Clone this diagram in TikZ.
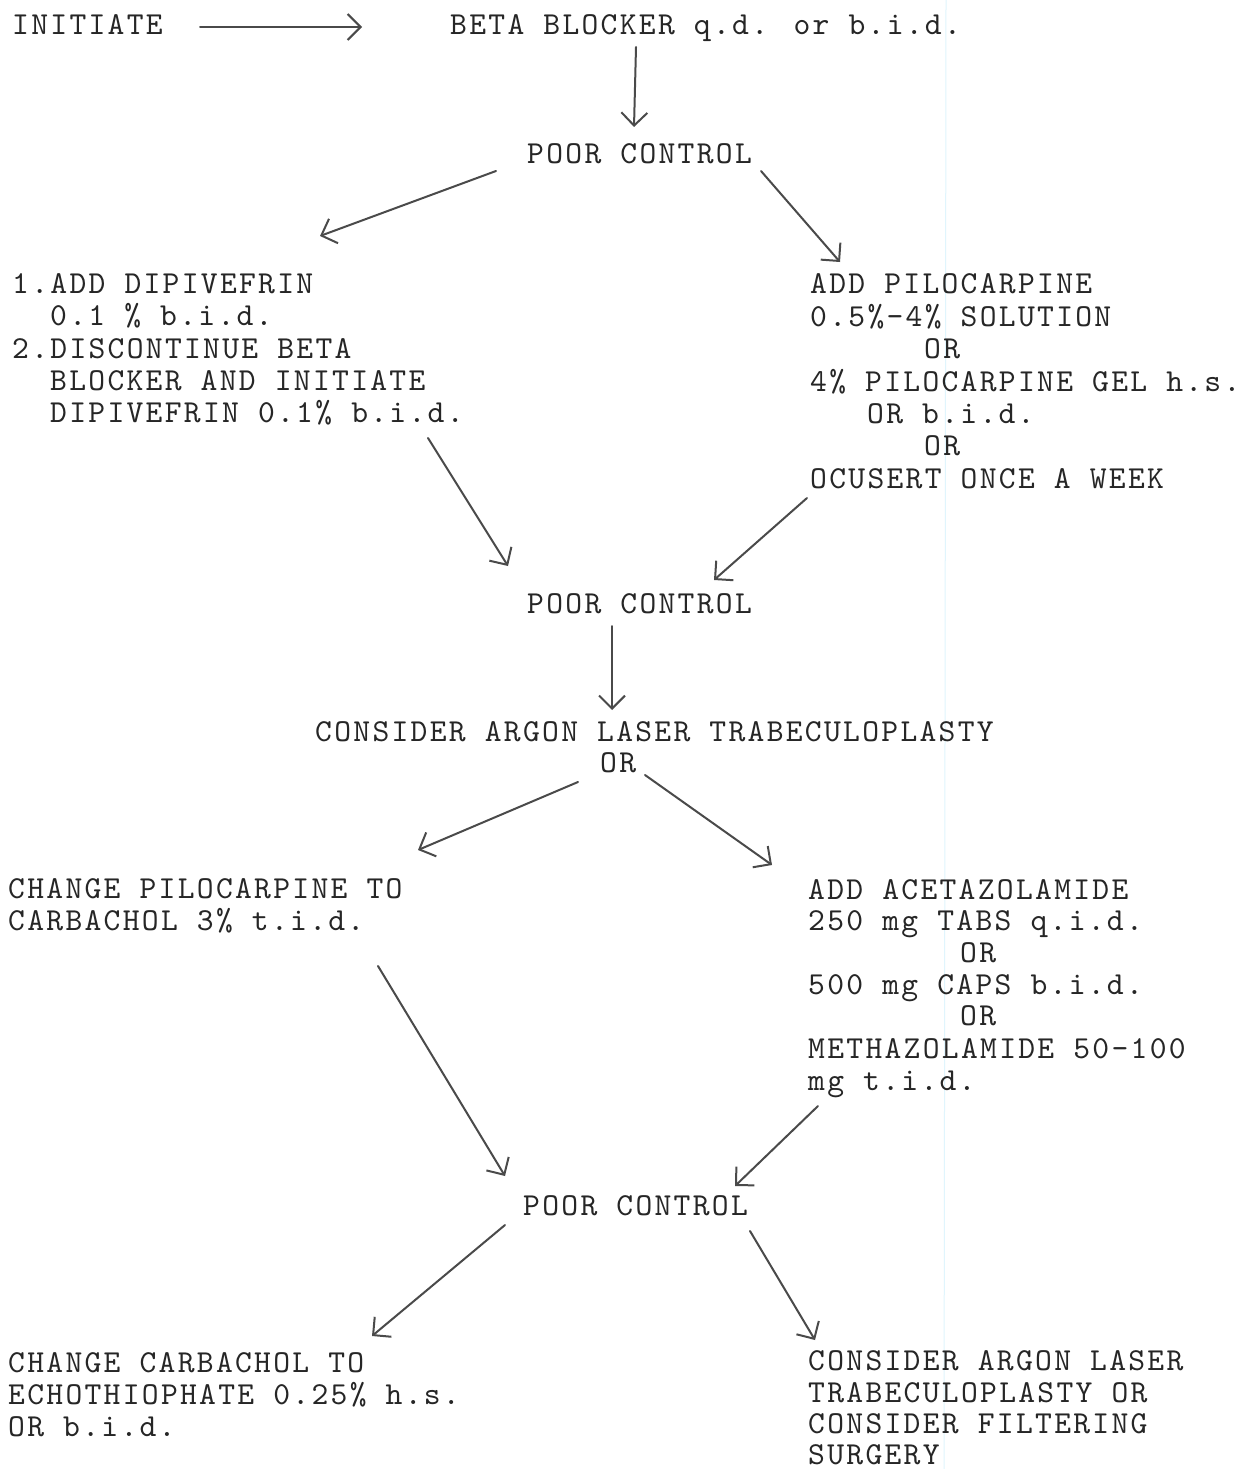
\documentclass[tikz,border=0pt]{standalone}
\usepackage{fontspec}
\usetikzlibrary{arrows.meta}
\definecolor{ink}{HTML}{262626}
\definecolor{pen}{HTML}{4A4A4A}
\newfontfamily\twfam{lmmono10-regular}[Extension=.otf, LetterSpace=7.2]
\newcommand\twfont{\twfam\fontsize{32}{32.5}\selectfont}
\tikzset{
  t/.style={anchor=base west, inner sep=0pt, text=ink, font=\twfont},
  arr/.style={draw=pen, line width=2pt, line cap=round, -{Straight Barb[length=13pt,width=26pt,line width=2pt]}}
}
\begin{document}
\begin{tikzpicture}[x=1pt,y=-1pt]
\useasboundingbox (0,0) rectangle (1251,1469);
\fill[white] (0,0) rectangle (1251,1469);
% faint scan line
\draw[cyan!12, line width=1pt] (946,0) -- (944,1469);

% top row
\node[t] (initiate) at (12,35) {INITIATE};
\node[t] (beta) at (450,35) {BETA BLOCKER q.d. or b.i.d.};
\node[t] (pc1) at (527,164) {POOR CONTROL};

% left block 1
\node[t] (l1) at (12,293) {1.ADD DIPIVEFRIN};
\node[t] (l2) at (50,325) {0.1 \% b.i.d.};
\node[t] (l3) at (12,358) {2.DISCONTINUE BETA};
\node[t] (l4) at (50,390) {BLOCKER AND INITIATE};
\node[t] (l5) at (50,422) {DIPIVEFRIN 0.1\% b.i.d.};

% right block 1
\node[t] (r1) at (810,293) {ADD PILOCARPINE};
\node[t] (r2) at (810,326) {0.5\%-4\% SOLUTION};
\node[t] (r3) at (924,358) {OR};
\node[t] (r4) at (810,391) {4\% PILOCARPINE GEL h.s.};
\node[t] (r5) at (867,423) {OR b.i.d.};
\node[t] (r6) at (924,455) {OR};
\node[t] (r7) at (810,488) {OCUSERT ONCE A WEEK};

% middle
\node[t] (pc2) at (527,613) {POOR CONTROL};
\node[t] (alt) at (315,741) {CONSIDER ARGON LASER TRABECULOPLASTY};
\node[t] (altor) at (600,772) {OR};

% left block 2
\node[t] (c1) at (8,898) {CHANGE PILOCARPINE TO};
\node[t] (c2) at (8,930) {CARBACHOL 3\% t.i.d.};

% right block 2
\node[t] (a1) at (808,899) {ADD ACETAZOLAMIDE};
\node[t] (a2) at (808,930) {250 mg TABS q.i.d.};
\node[t] (a3) at (960,962) {OR};
\node[t] (a4) at (808,994) {500 mg CAPS b.i.d.};
\node[t] (a5) at (960,1025) {OR};
\node[t] (a6) at (808,1058) {METHAZOLAMIDE 50-100};
\node[t] (a7) at (808,1090) {mg t.i.d.};

\node[t] (pc3) at (523,1215) {POOR CONTROL};

% bottom left
\node[t] (e1) at (8,1372) {CHANGE CARBACHOL TO};
\node[t] (e2) at (8,1404) {ECHOTHIOPHATE 0.25\% h.s.};
\node[t] (e3) at (8,1436) {OR b.i.d.};

% bottom right
\node[t] (f1) at (808,1370) {CONSIDER ARGON LASER};
\node[t] (f2) at (808,1402) {TRABECULOPLASTY OR};
\node[t] (f3) at (808,1433) {CONSIDER FILTERING};
\node[t] (f4) at (808,1464) {SURGERY};

% arrow end points
\coordinate (s1) at (200,27);   \coordinate (e1x) at (362,27);
\coordinate (s2) at (636,47);   \coordinate (e2x) at (634,127);
\coordinate (s3) at (496,171);  \coordinate (e3x) at (320,236);
\coordinate (s4) at (761,171);  \coordinate (e4x) at (840,262);
\coordinate (s5) at (428,438);  \coordinate (e5x) at (508,566);
\coordinate (s6) at (807,498);  \coordinate (e6x) at (714,580);
\coordinate (s7) at (612,626);  \coordinate (e7x) at (612,710);
\coordinate (s8) at (578,782);  \coordinate (e8x) at (418,850);
\coordinate (s9) at (645,775);  \coordinate (e9x) at (772,865);
\coordinate (s10) at (378,966); \coordinate (e10x) at (505,1176);
\coordinate (s11) at (818,1106);\coordinate (e11x) at (735,1186);
\coordinate (s12) at (505,1225);\coordinate (e12x) at (372,1336);
\coordinate (s13) at (750,1231);\coordinate (e13x) at (815,1340);

\draw[arr] (s1) -- (e1x);
\draw[arr] (s2) -- (e2x);
\draw[arr] (s3) -- (e3x);
\draw[arr] (s4) -- (e4x);
\draw[arr] (s5) -- (e5x);
\draw[arr] (s6) -- (e6x);
\draw[arr] (s7) -- (e7x);
\draw[arr] (s8) -- (e8x);
\draw[arr] (s9) -- (e9x);
\draw[arr] (s10) -- (e10x);
\draw[arr] (s11) -- (e11x);
\draw[arr] (s12) -- (e12x);
\draw[arr] (s13) -- (e13x);
\end{tikzpicture}
\end{document}
